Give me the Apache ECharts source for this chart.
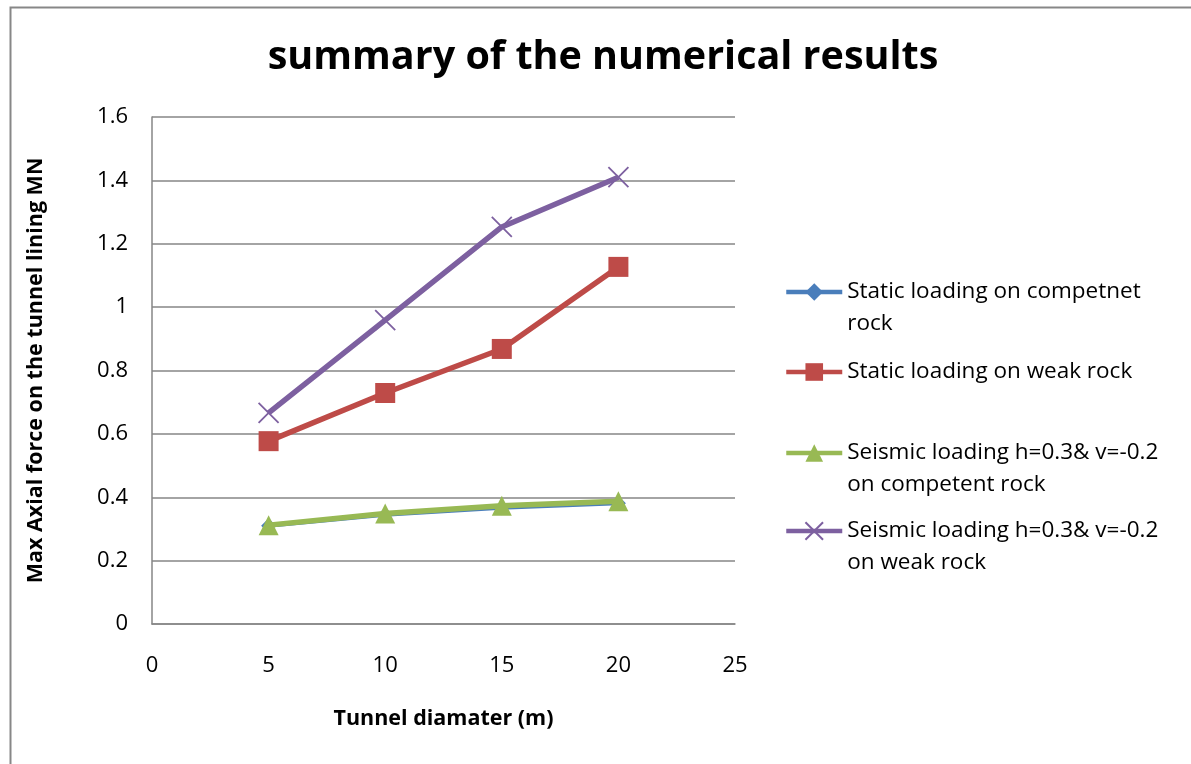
<!DOCTYPE html>
<html>
<head>
<meta charset="utf-8">
<title>summary of the numerical results</title>
<script src="https://cdn.jsdelivr.net/npm/echarts@6/dist/echarts.min.js"></script>
<style>
  html, body { margin: 0; padding: 0; background: #ffffff; }
  #chart { width: 1191px; height: 764px; }
</style>
</head>
<body>
<div id="chart"></div>
<script>
// Tunnel diameters (m)
const diameters = [5, 10, 15, 20];

// Max axial force on the tunnel lining (MN)
const staticCompetent = [0.31, 0.345, 0.367, 0.381];
const staticWeak = [0.577, 0.729, 0.868, 1.127];
const seismicCompetent = [0.312, 0.349, 0.373, 0.387];
const seismicWeak = [0.666, 0.959, 1.253, 1.41];

const seriesNames = [
  'Static loading on competnet rock',
  'Static loading on weak rock',
  'Seismic loading h=0.3& v=-0.2 on competent rock',
  'Seismic loading h=0.3& v=-0.2 on weak rock'
];
const legendLines = [
  ['Static loading on competnet', 'rock'],
  ['Static loading on weak rock'],
  ['Seismic loading h=0.3& v=-0.2', 'on competent rock'],
  ['Seismic loading h=0.3& v=-0.2', 'on weak rock']
];

const yTicks = [0, 0.2, 0.4, 0.6, 0.8, 1, 1.2, 1.4, 1.6];
const xTicks = [0, 5, 10, 15, 20, 25];

const colors = ['#4A7EBB', '#BE4B48', '#98B954', '#7D60A0'];
const FONT = 'Open Sans';
const LINE_H = 31.5;

const pairs = arr => diameters.map((d, i) => [d, arr[i]]);

const crossPath = 'path://M0,0L10,10M10,0L0,10';

function lineSeries(name, values, color, symbol, size, extra) {
  return Object.assign({
    name: name,
    type: 'line',
    data: pairs(values),
    symbol: symbol,
    symbolSize: size,
    showSymbol: true,
    lineStyle: { color: color, width: 5.5 },
    itemStyle: { color: color },
    emphasis: { disabled: true },
    animation: false
  }, extra || {});
}

const series = [
  lineSeries(seriesNames[0], staticCompetent, colors[0], 'diamond', 15, { z: 2, lineStyle: { color: colors[0], width: 4 } }),
  lineSeries(seriesNames[1], staticWeak, colors[1], 'rect', 20, { z: 3 }),
  lineSeries(seriesNames[2], seismicCompetent, colors[2], 'triangle', 20, { z: 4 }),
  lineSeries(seriesNames[3], seismicWeak, colors[3], crossPath, 20, {
    z: 5,
    itemStyle: { color: 'rgba(0,0,0,0)', borderColor: colors[3], borderWidth: 1.8 }
  })
];

// One legend block per entry; a blank leading line keeps the icon level
// with the first text line of a two-line label.
const legendRows = [292, 372, 453, 531];
const legends = seriesNames.map((name, i) => {
  const lines = legendLines[i];
  const twoLines = lines.length > 1;
  const label = twoLines ? '\u00a0\n' + lines.join('\n') : lines[0];
  const blockH = (twoLines ? 3 : 1) * LINE_H;
  return {
    data: [name],
    orient: 'vertical',
    left: 784,
    top: legendRows[i] - blockH / 2,
    padding: 0,
    itemWidth: 56,
    itemHeight: 22,
    itemGap: 0,
    selectedMode: false,
    lineStyle: { width: 4.5 },
    formatter: () => label,
    textStyle: {
      fontFamily: FONT,
      fontSize: 22.5,
      lineHeight: LINE_H,
      color: '#000000'
    }
  };
});

const chart = echarts.init(document.getElementById('chart'), null, { renderer: 'canvas' });
chart.setOption({
  backgroundColor: '#ffffff',
  animation: false,
  color: colors,
  title: {
    text: 'summary of the numerical results',
    left: 598,
    textAlign: 'center',
    top: 33,
    textStyle: { fontFamily: FONT, fontSize: 39.5, fontWeight: 'bold', color: '#000000' }
  },
  graphic: [{
    type: 'rect',
    left: 8,
    top: 5,
    shape: { width: 1300, height: 900 },
    style: { fill: 'none', stroke: '#878787', lineWidth: 2 },
    silent: true,
    z: -1
  }],
  legend: legends,
  grid: { left: 152, right: 456, top: 117, bottom: 140, containLabel: false },
  xAxis: {
    type: 'value',
    min: xTicks[0],
    max: xTicks[xTicks.length - 1],
    interval: 5,
    name: 'Tunnel diamater (m)',
    nameLocation: 'middle',
    nameGap: 84,
    nameTextStyle: { fontFamily: FONT, fontSize: 21.5, fontWeight: 'bold', color: '#000000' },
    axisLine: { show: true, lineStyle: { color: '#868686', width: 1.5 } },
    axisTick: { show: false },
    splitLine: { show: false },
    axisLabel: { fontFamily: FONT, fontSize: 22, color: '#000000', margin: 31 }
  },
  yAxis: {
    type: 'value',
    min: yTicks[0],
    max: yTicks[yTicks.length - 1],
    interval: 0.2,
    name: 'Max Axial force on the tunnel lining MN',
    nameLocation: 'middle',
    nameGap: 105,
    nameTextStyle: { fontFamily: FONT, fontSize: 21.5, fontWeight: 'bold', color: '#000000' },
    axisLine: { show: true, lineStyle: { color: '#868686', width: 1.5 } },
    axisTick: { show: false },
    splitLine: { show: true, lineStyle: { color: '#868686', width: 1.5 } },
    axisLabel: {
      fontFamily: FONT, fontSize: 22, color: '#000000', margin: 24,
      formatter: v => String(Math.round(v * 10) / 10)
    }
  },
  series: series
});
</script>
</body>
</html>
